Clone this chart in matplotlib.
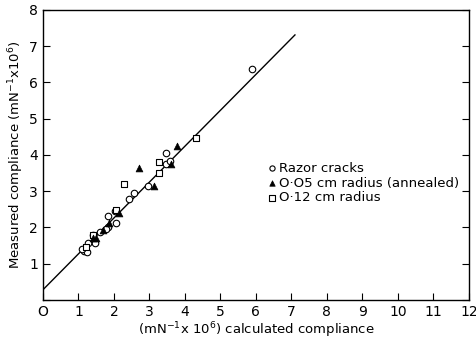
import numpy as np
import matplotlib
matplotlib.use("Agg")
import matplotlib.pyplot as plt

# Razor cracks (open circles)
razor_x = [5.88, 3.46, 3.46, 3.58, 2.96, 2.56, 2.43, 2.03, 2.06, 1.84, 1.84, 1.77, 1.61, 1.42, 1.46, 1.28, 1.15, 1.23, 1.10]
razor_y = [6.36, 4.05, 3.74, 3.84, 3.13, 2.94, 2.79, 2.44, 2.12, 2.32, 2.02, 1.95, 1.87, 1.78, 1.58, 1.56, 1.36, 1.33, 1.40]

# 0.05 cm radius (annealed), filled triangles
ann_x = [2.71, 3.78, 3.60, 3.14, 2.15, 1.70, 1.49, 1.87, 1.40]
ann_y = [3.63, 4.25, 3.74, 3.14, 2.39, 1.93, 1.72, 2.13, 1.70]

# 0.12 cm radius, open squares
r12_x = [4.30, 2.28, 3.26, 3.26, 2.05, 1.40, 1.20]
r12_y = [4.48, 3.20, 3.80, 3.49, 2.47, 1.80, 1.45]

# fitted line
line_x = [0.0, 7.1]
line_y = [0.28, 7.31]

xticks = list(range(0, 13))
yticks = list(range(0, 9))

plt.rcParams['font.family'] = ['DejaVu Sans']
fig = plt.figure(figsize=(4.77, 3.42), dpi=100)
ax = fig.add_axes([0.090, 0.123, 0.893, 0.848])

ax.plot(line_x, line_y, color='black', lw=1.0)
ax.scatter(razor_x, razor_y, s=22, marker='o', facecolors='white', edgecolors='black', linewidths=0.8, zorder=3, label='Razor cracks')
ax.scatter(ann_x, ann_y, s=24, marker='^', facecolors='black', edgecolors='black', linewidths=0.5, zorder=4, label='O·O5 cm radius (annealed)')
ax.scatter(r12_x, r12_y, s=24, marker='s', facecolors='white', edgecolors='black', linewidths=0.8, zorder=3, label='O·12 cm radius')

ax.set_xlim(0, 12)
ax.set_ylim(0, 8)
ax.set_xticks(xticks)
ax.set_yticks(yticks)
ax.set_xticklabels(['O'] + [str(t) for t in xticks[1:]], fontsize=10)
ax.set_yticklabels(['', *[str(t) for t in yticks[1:]]], fontsize=10)
ax.tick_params(direction='in', length=5, width=0.8, top=False, right=True)
ax.tick_params(axis='x', pad=4)

for sp in ax.spines.values():
    sp.set_linewidth(1.0)

ax.set_xlabel('(mN$^{-1}$x 10$^{6}$) calculated compliance', fontsize=9.5, labelpad=1)
ax.set_ylabel('Measured compliance (mN$^{-1}$x10$^{6}$)', fontsize=9.5, labelpad=2)

ax.legend(loc='upper left', bbox_to_anchor=(0.51, 0.50), frameon=False, fontsize=9.5,
          handletextpad=0.1, labelspacing=0.15, borderpad=0, handlelength=0.8, markerscale=0.8)

fig.savefig('out.png', dpi=100)
